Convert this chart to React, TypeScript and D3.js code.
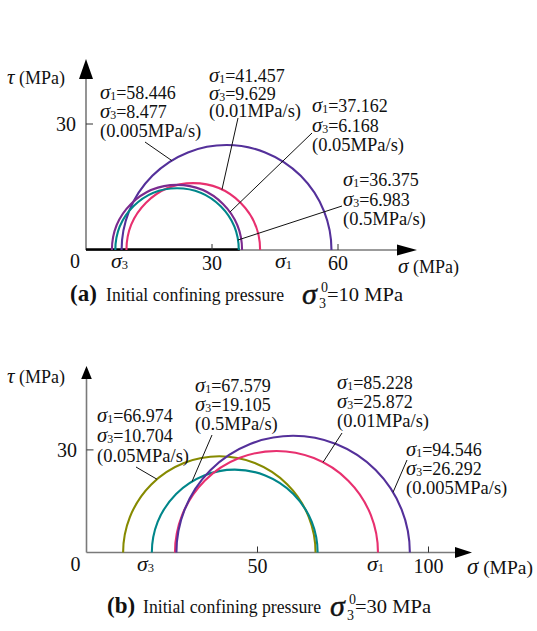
import React from "react";
import * as d3 from "d3";

// ---------- data ----------
const ratesA = ["0.005MPa/s", "0.01MPa/s", "0.05MPa/s", "0.5MPa/s"];
const sigma1A = [58.446, 41.457, 37.162, 36.375];
const sigma3A = [8.477, 9.629, 6.168, 6.983];
const xTicksA = [30, 60];
const yTicksA = [30];

const ratesB = ["0.05MPa/s", "0.5MPa/s", "0.01MPa/s", "0.005MPa/s"];
const sigma1B = [66.974, 67.579, 85.228, 94.546];
const sigma3B = [10.704, 19.105, 25.872, 26.292];
const xTicksB = [50, 100];
const yTicksB = [30];

// ---------- style / layout ----------
const FONT = "Liberation Serif, Tinos, Times New Roman, DejaVu Serif, serif";
const C_INDIGO = "#54309a";
const C_PINK = "#e8306f";
const C_PURPLE = "#7b2a8e";
const C_TEAL = "#00868a";
const C_OLIVE = "#868a00";
const AXIS = "#7a7a7a";

type Panel = {
  s1: number[];
  s3: number[];
  rates: string[];
  xTicks: number[];
  yTicks: number[];
  x0: number;
  y0: number;
  k: number;
  colors: string[];
  labels: { x: number; y: number; gap: number; lx: number; ly: number; ang: number }[];
  xArrow: { tip: number; len: number; h: number };
  yArrow: { tip: number; len: number; w: number };
  tickLabelY: number;
  yTickLabelX: number;
  sig3x: number;
  sig1x: number;
  sigAxisX: number;
  sigAxisY: number;
  sigAxisSize: number;
  tauY: number;
  thick?: number;
  caption: { letter: string; y: number; x: number; tx: number; sx: number; value: string };
};

const panels: Panel[] = [
  {
    s1: sigma1A,
    s3: sigma3A,
    rates: ratesA,
    xTicks: xTicksA,
    yTicks: yTicksA,
    x0: 86,
    y0: 250,
    k: 4.2,
    colors: [C_INDIGO, C_PINK, C_PURPLE, C_TEAL],
    labels: [
      { x: 100, y: 99, gap: 19, lx: 145, ly: 142, ang: 121.5 },
      { x: 209, y: 82, gap: 17.5, lx: 238, ly: 118, ang: 64.6 },
      { x: 312, y: 112, gap: 19.5, lx: 312, ly: 133, ang: 35.6 },
      { x: 343, y: 186, gap: 19.5, lx: 342, ly: 206, ang: 9.3 },
    ],
    xArrow: { tip: 417, len: 20, h: 5.5 },
    yArrow: { tip: 59, len: 20, w: 7 },
    tickLabelY: 270,
    yTickLabelX: 76,
    sig3x: 111,
    sig1x: 275,
    sigAxisX: 398,
    sigAxisY: 273,
    sigAxisSize: 18,
    tauY: 84,
    thick: 36.375,
    caption: { letter: "(a)", y: 301, x: 70, tx: 106, sx: 302, value: "=10 MPa" },
  },
  {
    s1: sigma1B,
    s3: sigma3B,
    rates: ratesB,
    xTicks: xTicksB,
    yTicks: yTicksB,
    x0: 86.5,
    y0: 552.5,
    k: 3.42,
    colors: [C_OLIVE, C_TEAL, C_PINK, C_INDIGO],
    labels: [
      { x: 97, y: 422, gap: 20, lx: 136, ly: 467, ang: 130.4 },
      { x: 195, y: 392, gap: 19, lx: 212, ly: 435, ang: 121 },
      { x: 337, y: 389, gap: 19, lx: 342, ly: 433, ang: 62.7 },
      { x: 406, y: 456, gap: 19, lx: 407, ly: 460, ang: 31.1 },
    ],
    xArrow: { tip: 472, len: 17, h: 5.5 },
    yArrow: { tip: 366, len: 13, w: 5.3 },
    tickLabelY: 573,
    yTickLabelX: 77,
    sig3x: 137,
    sig1x: 367,
    sigAxisX: 467,
    sigAxisY: 574,
    sigAxisSize: 19.5,
    tauY: 383,
    caption: { letter: "(b)", y: 613, x: 107, tx: 143, sx: 330, value: "=30 MPa" },
  },
];

const txt = (size: number, extra: React.CSSProperties = {}): React.CSSProperties => ({
  fontFamily: FONT,
  fontSize: size + "px",
  ...extra,
});

function SigmaText({ x, y, sub, rest, size = 18 }: { x: number; y: number; sub: string; rest: string; size?: number }) {
  return (
    <text x={x} y={y} style={txt(size)} fill="#111">
      <tspan style={{ fontStyle: "italic", fontSize: size * 1.15 + "px" }}>σ</tspan>
      <tspan style={{ fontSize: size * 0.66 + "px" }} dy={1}>
        {sub}
      </tspan>
      <tspan dy={-1}>{rest}</tspan>
    </text>
  );
}

function PanelView({ p }: { p: Panel }) {
  const x = d3.scaleLinear().domain([0, 1]).range([p.x0, p.x0 + p.k]);
  const y = d3.scaleLinear().domain([0, 1]).range([p.y0, p.y0 - p.k]);
  const r = (v: number) => x(v) - x(0);

  const circles = p.s1.map((s1, i) => {
    const s3 = p.s3[i];
    const c = (s1 + s3) / 2;
    const rad = (s1 - s3) / 2;
    const path = d3.path();
    path.moveTo(x(s3), y(0));
    path.arc(x(c), y(0), r(rad), Math.PI, 2 * Math.PI, false);
    return { path: path.toString(), c, rad, color: p.colors[i], s1, s3 };
  });

  return (
    <g>
      {/* axes */}
      <line x1={x(0)} y1={y(0)} x2={p.xArrow.tip - p.xArrow.len + 2} y2={y(0)} stroke={AXIS} strokeWidth={1.6} />
      <line x1={x(0)} y1={y(0)} x2={x(0)} y2={p.yArrow.tip + p.yArrow.len - 2} stroke={AXIS} strokeWidth={1.6} />
      {p.thick !== undefined && (
        <line x1={x(0)} y1={y(0) - 0.5} x2={x(p.thick) + 1} y2={y(0) - 0.5} stroke="#000" strokeWidth={2.6} />
      )}
      <path
        d={`M${p.xArrow.tip},${y(0)} L${p.xArrow.tip - p.xArrow.len},${y(0) - p.xArrow.h} L${p.xArrow.tip - p.xArrow.len},${y(0) + p.xArrow.h} Z`}
        fill="#000"
      />
      <path
        d={`M${x(0)},${p.yArrow.tip} L${x(0) - p.yArrow.w},${p.yArrow.tip + p.yArrow.len} L${x(0) + p.yArrow.w},${p.yArrow.tip + p.yArrow.len} Z`}
        fill="#000"
      />
      {p.xTicks.map((t) => (
        <g key={"xt" + t}>
          <line x1={x(t)} x2={x(t)} y1={y(0)} y2={y(0) - 6} stroke="#333" strokeWidth={1} />
          <text x={x(t)} y={p.tickLabelY} textAnchor="middle" style={txt(20)} fill="#111">
            {t}
          </text>
        </g>
      ))}
      {p.yTicks.map((t) => (
        <g key={"yt" + t}>
          <line x1={x(0)} x2={x(0) + 7} y1={y(t)} y2={y(t)} stroke="#333" strokeWidth={1} />
          <text x={p.yTickLabelX} y={y(t) + 7} textAnchor="end" style={txt(20)} fill="#111">
            {t}
          </text>
        </g>
      ))}
      <text x={x(0) - 6} y={p.tickLabelY - 2} textAnchor="end" style={txt(20)} fill="#111">
        0
      </text>
      <SigmaText x={p.sig3x} y={p.tickLabelY - 2} sub="3" rest="" size={19} />
      <SigmaText x={p.sig1x} y={p.tickLabelY - 2} sub="1" rest="" size={19} />
      <text x={p.sigAxisX} y={p.sigAxisY} style={txt(p.sigAxisSize)} fill="#111">
        <tspan style={{ fontStyle: "italic", fontSize: p.sigAxisSize * 1.17 + "px" }}>σ</tspan>
        <tspan> (MPa)</tspan>
      </text>
      <text x={7} y={p.tauY} style={txt(18)} fill="#111">
        <tspan style={{ fontStyle: "italic", fontSize: "21px" }}>τ</tspan>
        <tspan> (MPa)</tspan>
      </text>

      {/* circles */}
      {circles.map((c, i) => (
        <path key={"c" + i} d={c.path} fill="none" stroke={c.color} strokeWidth={2.1} />
      ))}

      {/* labels + leaders */}
      {circles.map((c, i) => {
        const L = p.labels[i];
        const a = (L.ang * Math.PI) / 180;
        const ex = x(c.c) + r(c.rad) * Math.cos(a);
        const ey = y(0) - r(c.rad) * Math.sin(a);
        return (
          <g key={"l" + i}>
            <line x1={L.lx} y1={L.ly} x2={ex} y2={ey} stroke="#111" strokeWidth={1} />
            <SigmaText x={L.x} y={L.y} sub="1" rest={"=" + c.s1.toFixed(3)} />
            <SigmaText x={L.x} y={L.y + L.gap} sub="3" rest={"=" + c.s3.toFixed(3)} />
            <text x={L.x} y={L.y + 2 * L.gap} style={txt(18.5)} fill="#111">
              {"(" + p.rates[i] + ")"}
            </text>
          </g>
        );
      })}

      {/* caption */}
      <text x={p.caption.x} y={p.caption.y} style={txt(23, { fontWeight: "bold" })} fill="#111">
        {p.caption.letter}
      </text>
      <text
        x={p.caption.tx}
        y={p.caption.y}
        style={txt(18.5)}
        fill="#111"
        textLength={178}
        lengthAdjust="spacingAndGlyphs"
      >
        Initial confining pressure
      </text>
      <text x={p.caption.sx} y={p.caption.y + 3} style={txt(30, { fontStyle: "italic" })} fill="#111" stroke="#111" strokeWidth={0.4}>
        σ
      </text>
      <text x={p.caption.sx + 19} y={p.caption.y - 9} style={txt(14)} fill="#111">
        0
      </text>
      <text x={p.caption.sx + 17} y={p.caption.y + 7} style={txt(14)} fill="#111">
        3
      </text>
      <text
        x={p.caption.sx + 25}
        y={p.caption.y}
        style={txt(19)}
        fill="#111"
        textLength={76}
        lengthAdjust="spacingAndGlyphs"
      >
        {p.caption.value}
      </text>
    </g>
  );
}

export default function App() {
  return (
    <svg width={537} height={631} viewBox="0 0 537 631" style={{ position: "absolute", left: 0, top: 0, background: "#fff" }}>
      <rect width={537} height={631} fill="#fff" />
      {panels.map((p, i) => (
        <PanelView key={i} p={p} />
      ))}
    </svg>
  );
}
